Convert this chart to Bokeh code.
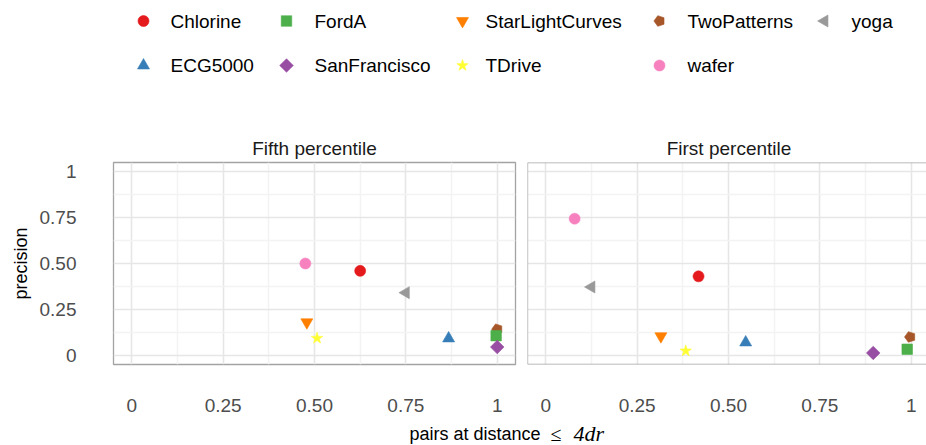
import math
from bokeh.plotting import figure
from bokeh.models import Range1d, FixedTicker, Grid, Span
from bokeh.layouts import column, row
from bokeh.embed import file_html
from bokeh.resources import INLINE
from bokeh.core.properties import value

# ---------------- data ----------------
datasets = ["Chlorine", "ECG5000", "FordA", "SanFrancisco", "StarLightCurves",
            "TDrive", "TwoPatterns", "wafer", "yoga"]
colors = ["#E41A1C", "#377EB8", "#4DAF4A", "#984EA3", "#FF7F00",
          "#FFFF33", "#A65628", "#F781BF", "#999999"]
shapes = ["circle", "triangle", "square", "diamond", "inverted_triangle",
          "star", "pentagon", "circle", "triangle_left"]

fifth_x = [0.625, 0.867, 0.997, 1.000, 0.479, 0.507, 1.000, 0.475, 0.750]
fifth_y = [0.460, 0.092, 0.107, 0.045, 0.180, 0.093, 0.142, 0.500, 0.341]
first_x = [0.418, 0.547, 0.989, 0.896, 0.315, 0.383, 0.997, 0.079, 0.125]
first_y = [0.430, 0.070, 0.033, 0.013, 0.104, 0.024, 0.100, 0.744, 0.372]

panel_titles = ["Fifth percentile", "First percentile"]
tick_values = [0, 0.25, 0.5, 0.75, 1]
tick_labels = ["0", "0.25", "0.50", "0.75", "1"]
minor_values = [0.125, 0.375, 0.625, 0.875]
x_title_parts = ["pairs at distance", "\u2264", "4dr"]
y_title = "precision"

# ---------------- style ----------------
FONT = "Liberation Sans"
SERIF = "Liberation Serif"
GRID_MAJOR = "#E6E6E6"
GRID_MINOR = "#F3F3F3"
BORDER = "#A3A3A3"
draw_order = [6, 0, 1, 2, 3, 4, 5, 7, 8]
W, H = 926, 445


def draw_marker(p, shape, color, xs, ys):
    kw = dict(fill_color=color, line_color=color, line_width=0.6)
    if shape == "circle":
        p.scatter(xs, ys, marker="circle", size=11, **kw)
    elif shape == "triangle":
        p.scatter(xs, ys, marker="triangle", size=12, **kw)
    elif shape == "inverted_triangle":
        p.scatter(xs, ys, marker="inverted_triangle", size=12, **kw)
    elif shape == "triangle_left":
        p.scatter(xs, ys, marker="triangle", size=12, angle=math.pi / 2, **kw)
    elif shape == "square":
        p.scatter(xs, ys, marker="square", size=10.5, **kw)
    elif shape == "diamond":
        p.scatter(xs, ys, marker="square", size=9.6, angle=math.pi / 4, **kw)
    elif shape == "star":
        p.scatter(xs, ys, marker="star", size=12, **kw)
    elif shape == "pentagon":
        done = False
        if hasattr(p, "ngon"):
            try:
                p.ngon(x=xs, y=ys, radius=5.6, radius_units="screen", n=5,
                       angle=math.pi / 2, **kw)
                done = True
            except Exception:
                done = False
        if not done:
            p.scatter(xs, ys, marker="hex", size=10.5, **kw)


# ---------------- header: legend + panel titles ----------------
HDR_H = 160
hdr = figure(width=W, height=HDR_H, x_range=Range1d(0, W), y_range=Range1d(HDR_H, 0),
             output_backend="svg", toolbar_location=None, title=None,
             x_axis_location=None, y_axis_location=None, min_border=0)
hdr.grid.visible = False
hdr.outline_line_color = None

key_x = [143, 286, 462, 659, 824]
text_x = [170, 314, 485, 687, 851]
row_y = [20.5, 65]
for i, name in enumerate(datasets):
    c, r = i // 2, i % 2
    draw_marker(hdr, shapes[i], colors[i], [key_x[c]], [row_y[r]])
    hdr.text(x=[text_x[c]], y=[row_y[r]], text=[name], text_font=value(FONT),
             text_font_size="19px", text_baseline="middle", text_align="left",
             text_color="#000000")

hdr.text(x=[314, 728.5], y=[148, 148], text=panel_titles, text_font=value(FONT),
         text_font_size="19px", text_baseline="middle", text_align="center",
         text_color="#1A1A1A")

# ---------------- panels ----------------
MID_H = 260


def make_panel(width, left, right, x_end, xs, ys, show_y):
    p = figure(width=width, height=MID_H, x_range=Range1d(-0.05, x_end),
               y_range=Range1d(-0.05, 1.05), output_backend="svg",
               toolbar_location=None, title=None,
               x_axis_location="below", y_axis_location="left" if show_y else None,
               min_border_left=left, min_border_right=right,
               min_border_top=2, min_border_bottom=56)
    p.grid.visible = False
    for dim in (0, 1):
        g = Grid(dimension=dim,
                 ticker=FixedTicker(ticks=tick_values, minor_ticks=minor_values),
                 grid_line_color=GRID_MAJOR, grid_line_width=1.6,
                 minor_grid_line_color=GRID_MINOR, minor_grid_line_width=1.6)
        p.add_layout(g)
    overrides = dict(zip([float(v) for v in tick_values], tick_labels))
    axes = [p.xaxis[0]] + ([p.yaxis[0]] if show_y else [])
    for ax in axes:
        ax.ticker = FixedTicker(ticks=tick_values)
        ax.major_label_overrides = overrides
        ax.axis_line_color = None
        ax.major_tick_line_color = None
        ax.minor_tick_line_color = None
        ax.major_tick_out = 0
        ax.major_tick_in = 0
        ax.major_label_text_font = FONT
        ax.major_label_text_font_size = "19px"
        ax.major_label_text_color = "#4D4D4D"
    p.xaxis.major_label_standoff = 34
    if show_y:
        p.yaxis.major_label_standoff = 37
        p.yaxis.axis_label = y_title
        p.yaxis.axis_label_text_font = FONT
        p.yaxis.axis_label_text_font_size = "18px"
        p.yaxis.axis_label_text_font_style = "normal"
        p.yaxis.axis_label_text_color = "#000000"
        p.yaxis.axis_label_standoff = 6
        p.outline_line_color = BORDER
        p.outline_line_width = 1.3
    else:
        p.outline_line_color = None
        for loc, dim in ((-0.05, "height"), (-0.05, "width"), (1.05, "width")):
            p.add_layout(Span(location=loc, dimension=dim, line_color=BORDER,
                              line_width=1.3))
    for i in draw_order:
        draw_marker(p, shapes[i], colors[i], [xs[i]], [ys[i]])
    return p


LEFT_W = 521
RIGHT_W = W - LEFT_W
left = make_panel(LEFT_W, 113, 6, 1.05, fifth_x, fifth_y, True)
right_frame_px = RIGHT_W - 6
right = make_panel(RIGHT_W, 6, 0, -0.05 + right_frame_px / 365.45,
                   first_x, first_y, False)

# ---------------- bottom: x-axis title ----------------
BOT_TOP = HDR_H + MID_H
bot = figure(width=W, height=H - BOT_TOP, x_range=Range1d(0, W),
             y_range=Range1d(H, BOT_TOP), output_backend="svg",
             toolbar_location=None, title=None,
             x_axis_location=None, y_axis_location=None, min_border=0)
bot.grid.visible = False
bot.outline_line_color = None
bot.text(x=[409], y=[433], text=[x_title_parts[0]], text_font=value(FONT),
         text_font_size="18px", text_baseline="middle", text_align="left",
         text_color="#000000")
bot.text(x=[550], y=[433], text=[x_title_parts[1]], text_font=value(SERIF),
         text_font_size="20px", text_baseline="middle", text_align="left",
         text_color="#000000")
bot.text(x=[573], y=[433], text=[x_title_parts[2]], text_font=value(SERIF),
         text_font_size="22px", text_font_style="italic", text_baseline="middle",
         text_align="left", text_color="#000000")

layout = column(hdr, row(left, right), bot)
open("out.html", "w").write(file_html(layout, INLINE))
